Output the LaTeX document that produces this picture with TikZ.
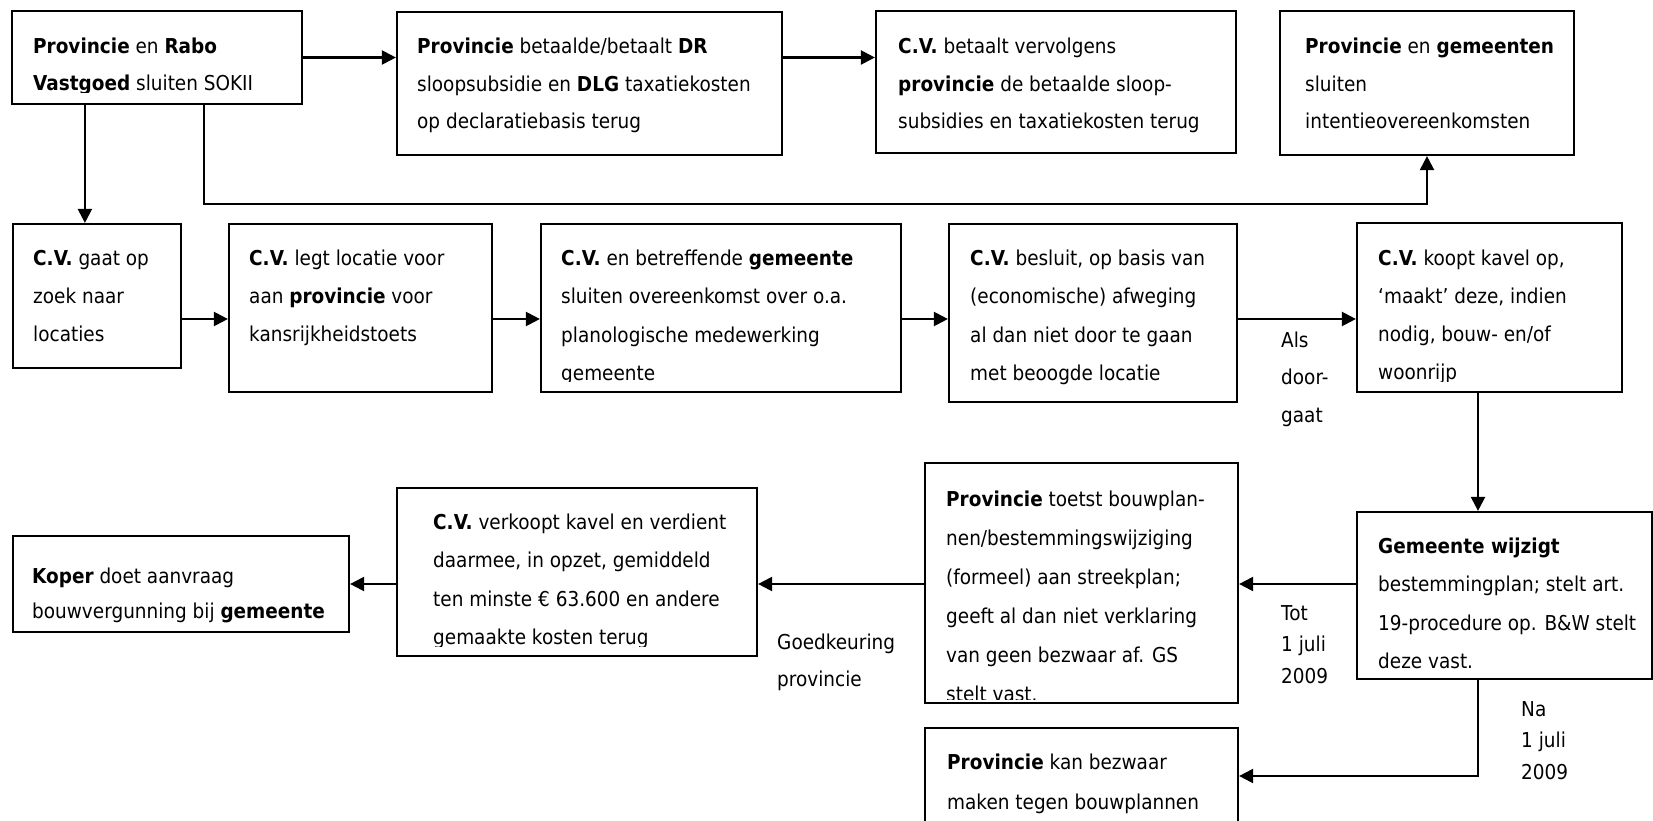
\documentclass[tikz,border=0pt]{standalone}
\usepackage{fontspec}
\setmainfont{DejaVu Sans}[FakeStretch=0.9]
\usetikzlibrary{arrows.meta,fit}

% left-aligned lines, first baseline is the box baseline
\newcommand\tl[2][37pt]{\vtop{\baselineskip=#1\lineskiplimit=-100pt\lineskip=0pt\halign{##\hfil\cr#2\crcr}}}

\tikzset{
  panel/.style={draw, line width=2.2pt, inner sep=0pt},
  words/.style={anchor=base west, inner sep=0pt, font=\fontsize{20.5}{37}\selectfont},
  arr/.style={line width=2.2pt, -{Triangle[length=14pt,width=14pt]}},
}

% #1 name, #2-#5 corners, #6 bottom of visible text, #7 first baseline, #8 text
\newcommand\panel[8]{%
  \node[panel, fit={(#2,#3) (#4,#5)}] (#1) {};
  \begin{scope}
    \clip (#2,#3) rectangle (#4,#6);
    \node[words] at (#7) {#8};
  \end{scope}}

\begin{document}
\begin{tikzpicture}[x=1pt,y=-1pt]
\useasboundingbox (0,0) rectangle (1653,821);

% top row
\panel{b1}{12}{11}{302}{104}{93}{33,54}{\tl{\textbf{Provincie} en \textbf{Rabo}\cr\textbf{Vastgoed} sluiten SOKII}}
\panel{b2}{397}{12}{782}{155}{155}{417,54}{\tl[37.5pt]{\textbf{Provincie} betaalde/betaalt \textbf{DR}\cr sloopsubsidie en \textbf{DLG} taxatiekosten\cr op declaratiebasis terug}}
\panel{b3}{876}{11}{1236}{153}{153}{898,54}{\tl[37.5pt]{\textbf{C.V.} betaalt vervolgens\cr\textbf{provincie} de betaalde sloop-\cr subsidies en taxatiekosten terug}}
\panel{b4}{1280}{11}{1574}{155}{155}{1305,54}{\tl[37.5pt]{\textbf{Provincie} en \textbf{gemeenten}\cr sluiten\cr intentieovereenkomsten}}

% middle row
\panel{b5}{13}{224}{181}{368}{368}{33,265}{\tl[38pt]{\textbf{C.V.} gaat op\cr zoek naar\cr locaties}}
\panel{b6}{229}{224}{492}{392}{392}{249,265}{\tl[38pt]{\textbf{C.V.} legt locatie voor\cr aan \textbf{provincie} voor\cr kansrijkheidstoets}}
\panel{b7}{541}{224}{901}{392}{381}{561,265}{\tl[38.5pt]{\textbf{C.V.} en betreffende \textbf{gemeente}\cr sluiten overeenkomst over o.a.\cr planologische medewerking\cr gemeente}}
\panel{b8}{949}{224}{1237}{402}{402}{970,265}{\tl[38.5pt]{\textbf{C.V.} besluit, op basis van\cr (economische) afweging\cr al dan niet door te gaan\cr met beoogde locatie}}
\panel{b9}{1357}{223}{1622}{392}{381}{1378,265}{\tl[38pt]{\textbf{C.V.} koopt kavel op,\cr ‘maakt’ deze, indien\cr nodig, bouw- en/of\cr woonrijp}}
\node[words] (als) at (1281,347) {\tl[37.5pt]{Als\cr door-\cr gaat}};

% bottom rows
\panel{b10}{1357}{512}{1652}{679}{679}{1378,553}{\tl[38.5pt]{\textbf{Gemeente wijzigt}\cr bestemmingplan; stelt art.\cr 19-procedure op. B\&W stelt\cr deze vast.}}
\panel{b11}{925}{463}{1238}{703}{699}{946,506}{\tl[39pt]{\textbf{Provincie} toetst bouwplan-\cr nen/bestemmingswijziging\cr (formeel) aan streekplan;\cr geeft al dan niet verklaring\cr van geen bezwaar af. GS\cr stelt vast.}}
\panel{b12}{397}{488}{757}{656}{646}{433,529}{\tl[38.5pt]{\textbf{C.V.} verkoopt kavel en verdient\cr daarmee, in opzet, gemiddeld\cr ten minste € 63.600 en andere\cr gemaakte kosten terug}}
\panel{b13}{13}{536}{349}{632}{632}{32,583}{\tl[35pt]{\textbf{Koper} doet aanvraag\cr bouwvergunning bij \textbf{gemeente}}}
\panel{b14}{925}{728}{1238}{824}{824}{947,769}{\tl[40pt]{\textbf{Provincie} kan bezwaar\cr maken tegen bouwplannen}}
\node[words] (goed) at (777,649) {\tl[37pt]{Goedkeuring\cr provincie}};
\node[words] (tot) at (1281,620) {\tl[31.5pt]{Tot\cr 1 juli\cr 2009}};
\node[words] (na) at (1521,716) {\tl[31.5pt]{Na\cr 1 juli\cr 2009}};

% connectors
\coordinate (r2) at (0,319);
\coordinate (r3) at (0,584);
\coordinate (c9) at (1478,0);
\draw[arr] (b1.east) -- (b2.west |- b1.east);
\draw[arr] (b2.east |- b1.east) -- (b3.west |- b1.east);
\draw[arr] ([xshift=74pt]b1.south west) coordinate (d1) -- (d1 |- b5.north);
\draw[arr] ([xshift=193pt]b1.south west) -- ++(0,99) -| (b4.south);
\draw[arr] (b5.east |- r2) -- (b6.west |- r2);
\draw[arr] (b6.east |- r2) -- (b7.west |- r2);
\draw[arr] (b7.east |- r2) -- (b8.west |- r2);
\draw[arr] (b8.east |- r2) -- (b9.west |- r2);
\draw[arr] (b9.south -| c9) -- (b10.north -| c9);
\draw[arr] (b10.west |- r3) -- (b11.east |- r3);
\draw[arr] (b11.west |- r3) -- (b12.east |- r3);
\draw[arr] (b12.west |- r3) -- (b13.east |- r3);
\draw[arr] (b10.south -| c9) |- (b14.east);
\end{tikzpicture}
\end{document}
